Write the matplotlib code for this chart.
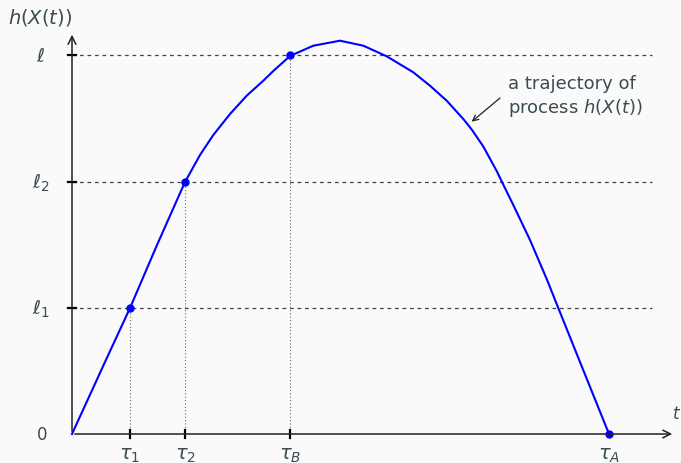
import matplotlib.pyplot as plt

# trajectory of h(X(t)) (t, h in plot units)
traj_t = [0, 33, 58, 84.7, 113, 128, 141.3, 158, 174.7, 191.3, 201.3, 218, 241.3, 268,
          291.3, 314.7, 341.3, 358, 374.7, 391.3, 399.7, 411.3, 424.7, 430, 441.3, 458,
          474.7, 486.3, 508, 537]
traj_h = [0, 72, 126, 188.3, 252, 279, 299, 320, 338.3, 353.3, 363, 378, 388.3, 393.3,
          388.3, 377.7, 361.7, 348.3, 333.3, 315, 304.5, 287.5, 263, 252, 229, 194,
          155, 126, 72, 0]

# marked hitting times and levels
tau_names = [r'$\tau_1$', r'$\tau_2$', r'$\tau_B$', r'$\tau_A$']
tau_vals = [58, 113, 218, 537]
level_names = [r'$\ell_1$', r'$\ell_2$', r'$\ell$']
level_vals = [126, 252, 379]

txt = '#3b4b52'
bg = '#fafafa'

fig = plt.figure(figsize=(6.81, 4.64), dpi=100, facecolor=bg)
ax = fig.add_axes([0, 0, 1, 1], facecolor=bg)
ax.set_xlim(-72, 609)
ax.set_ylim(-29, 435)
ax.axis('off')

# guide lines
for lv in level_vals:
    ax.plot([0, 580], [lv, lv], color='#444444', lw=0.9, ls=(0, (3, 3)))
for tv, lv in zip(tau_vals[:3], level_vals):
    ax.plot([tv, tv], [0, lv], color='#666666', lw=0.8, ls=(0, (1, 2)))

# axes with arrows
ax.annotate('', xy=(603, 0), xytext=(0, 0),
            arrowprops=dict(arrowstyle='->', color='#222222', lw=1.1, mutation_scale=14))
ax.annotate('', xy=(0, 402), xytext=(0, 0),
            arrowprops=dict(arrowstyle='->', color='#222222', lw=1.1, mutation_scale=14))

# ticks
for tv in tau_vals[:3]:
    ax.plot([tv, tv], [-4, 4], color='black', lw=1.6)
for lv in level_vals:
    ax.plot([-4, 4], [lv, lv], color='black', lw=1.6)

# curve and points
ax.plot(traj_t, traj_h, color='#0000ff', lw=1.5, solid_joinstyle='round')
ax.plot(tau_vals[:3], level_vals, 'o', color='#0000ff', ms=5)
ax.plot([tau_vals[3]], [0], 'o', color='#0000ff', ms=5)

# labels
for name, tv in zip(tau_names, tau_vals):
    ax.text(tv, -21, name, ha='center', va='center', fontsize=14, color=txt)
for name, lv in zip(level_names, level_vals):
    ax.text(-31, lv, name, ha='center', va='center', fontsize=14, color=txt)
ax.text(-30, 0, '0', ha='center', va='center', fontsize=12, color=txt)
ax.text(605, 21, r'$t$', ha='center', va='center', fontsize=12, color=txt)
ax.text(-32, 417, r'$h(X(t))$', ha='center', va='center', fontsize=14, color=txt)

ax.text(436, 338, 'a trajectory of\nprocess $h(X(t))$', fontsize=13, color=txt,
        va='center', ha='left', linespacing=1.25)
ax.annotate('', xy=(399.7, 312.3), xytext=(428, 336),
            arrowprops=dict(arrowstyle='->', color='#222222', lw=0.9,
                            shrinkA=0, shrinkB=0))

fig.savefig('out.png', dpi=100, facecolor=bg)
